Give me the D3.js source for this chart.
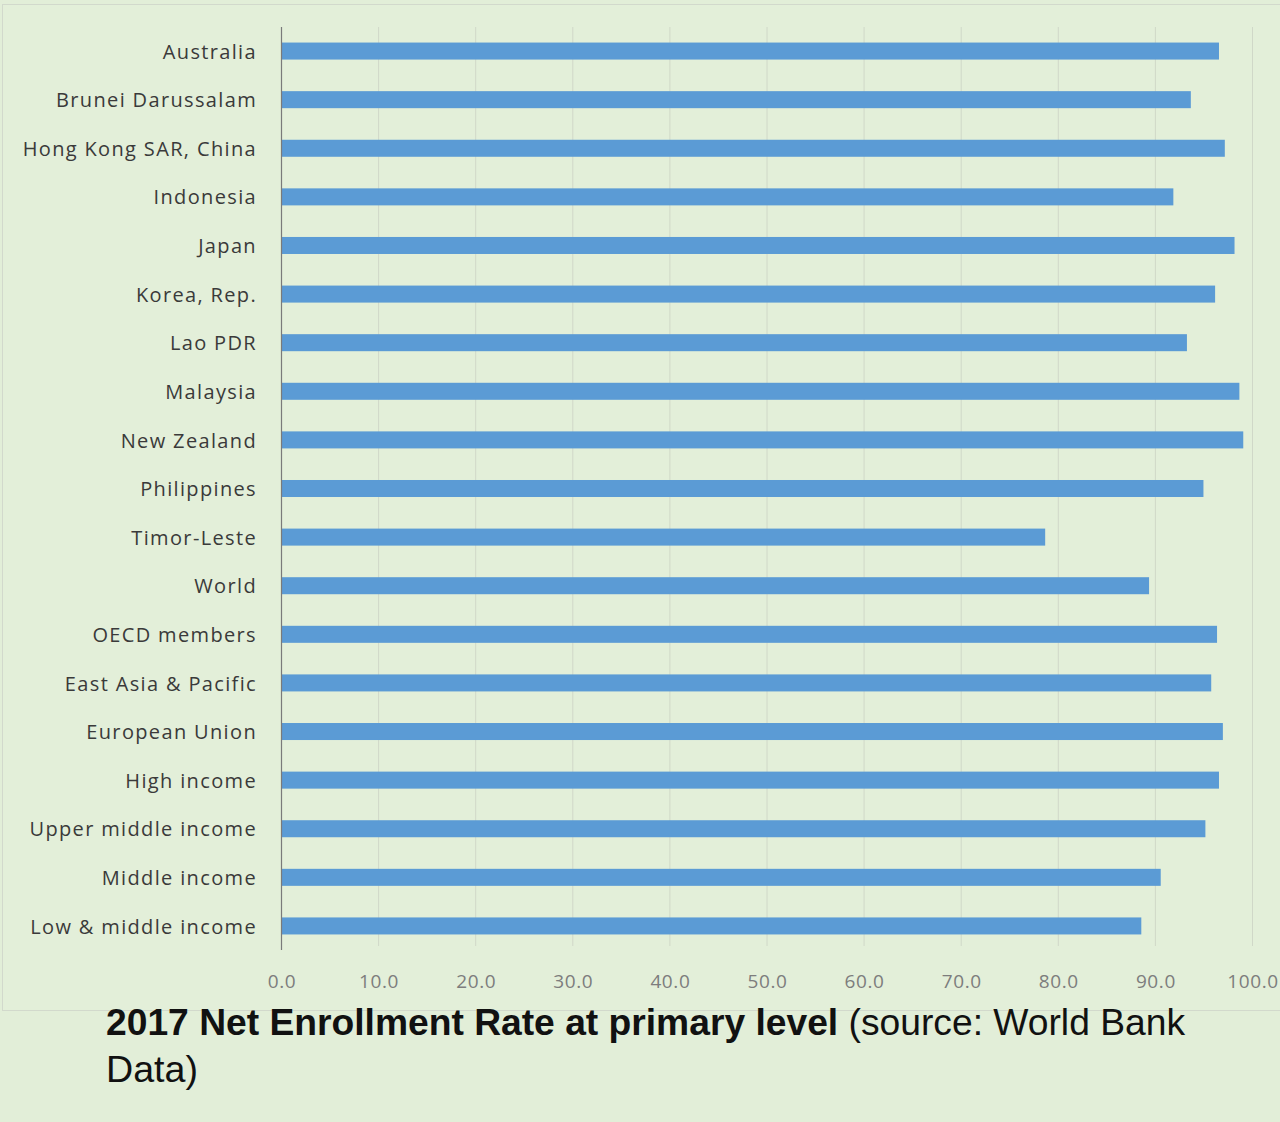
<!DOCTYPE html>
<html>
<head>
<meta charset="utf-8">
<script src="https://cdn.jsdelivr.net/npm/d3@7"></script>
<style>
  html, body { margin: 0; padding: 0; background: #e2eed8; }
  svg { display: block; }
</style>
</head>
<body>
<svg id="chart" width="1280" height="1122"></svg>
<script>
// values (net enrollment rate, primary, 2017)
const countries = ["Australia", "Brunei Darussalam", "Hong Kong SAR, China", "Indonesia", "Japan",
  "Korea, Rep.", "Lao PDR", "Malaysia", "New Zealand", "Philippines", "Timor-Leste", "World",
  "OECD members", "East Asia & Pacific", "European Union", "High income",
  "Upper middle income", "Middle income", "Low & middle income"];
const rates = [96.6, 93.7, 97.2, 91.9, 98.2, 96.2, 93.3, 98.7, 99.1, 95.0, 78.7, 89.4,
  96.4, 95.8, 97.0, 96.6, 95.2, 90.6, 88.6];
const xTicks = [0, 10, 20, 30, 40, 50, 60, 70, 80, 90, 100];
const captionBold = "2017 Net Enrollment Rate at primary level";
const captionRest = " (source: World Bank";
const captionLine2 = "Data)";

const bg = "#e2eed8";
const bar_color = "#5b9bd5";
const grid_color = "#d0d8c8";

const svg = d3.select("#chart");
const data = countries.map((c, i) => ({country: c, rate: rates[i]}));

// background + panel frame
svg.append("rect").attr("width", 1280).attr("height", 1122).attr("fill", bg);
svg.append("rect")
  .attr("x", 2.5).attr("y", 4.5).attr("width", 1285).attr("height", 1006)
  .attr("fill", "#e3efd9").attr("stroke", "#d2d9cc").attr("stroke-width", 1);

const plot = {left: 281, right: 1252, top: 27, bottom: 950};

const x = d3.scaleLinear().domain([0, 100]).range([plot.left, plot.right]);
const y = d3.scaleBand().domain(countries)
  .range([plot.top, plot.bottom])
  .paddingInner(0.65)
  .paddingOuter(0.32);

// vertical gridlines
svg.append("g")
  .selectAll("line")
  .data(xTicks.slice(1))
  .enter().append("line")
    .attr("x1", d => x(d) + 0.5).attr("x2", d => x(d) + 0.5)
    .attr("y1", plot.top).attr("y2", plot.bottom - 4)
    .attr("stroke", grid_color).attr("stroke-width", 1);

// bars
svg.append("g")
  .selectAll("rect")
  .data(data)
  .enter().append("rect")
    .attr("x", x(0) + 1)
    .attr("y", d => y(d.country))
    .attr("width", d => x(d.rate) - x(0) - 1)
    .attr("height", y.bandwidth())
    .attr("fill", bar_color);

// y axis (category labels)
const yAxis = svg.append("g")
  .attr("transform", `translate(${plot.left},0)`)
  .call(d3.axisLeft(y).tickSize(0).tickPadding(24));
yAxis.select(".domain")
  .attr("d", `M0.5,${plot.top}V${plot.bottom}`)
  .attr("stroke", "#7a7a7a").attr("stroke-width", 1.2);
yAxis.selectAll("text")
  .attr("dy", "0.38em")
  .style("font-family", "'Open Sans', sans-serif")
  .style("font-size", "20px")
  .style("letter-spacing", "1.35px")
  .attr("fill", "#3a3a3a");

// x tick labels
svg.append("g")
  .selectAll("text")
  .data(xTicks)
  .enter().append("text")
    .attr("x", d => x(d) + 1)
    .attr("y", 988)
    .attr("text-anchor", "middle")
    .style("font-family", "'Open Sans', sans-serif")
    .style("font-size", "19px")
    .style("letter-spacing", "0.6px")
    .attr("fill", "#7d7d7d")
    .text(d => d3.format(".1f")(d));

// caption
const cap = svg.append("text")
  .attr("x", 106).attr("y", 1035)
  .style("font-family", "'Liberation Sans', Arial, sans-serif")
  .style("font-size", "36px")
  .attr("fill", "#111");
cap.append("tspan").style("font-weight", "bold").text(captionBold);
cap.append("tspan").text(captionRest);
cap.attr("textLength", 1079).attr("lengthAdjust", "spacingAndGlyphs");

svg.append("text")
  .attr("x", 106).attr("y", 1082)
  .style("font-family", "'Liberation Sans', Arial, sans-serif")
  .style("font-size", "36px")
  .attr("fill", "#111")
  .attr("textLength", 92).attr("lengthAdjust", "spacingAndGlyphs")
  .text(captionLine2);
</script>
</body>
</html>
